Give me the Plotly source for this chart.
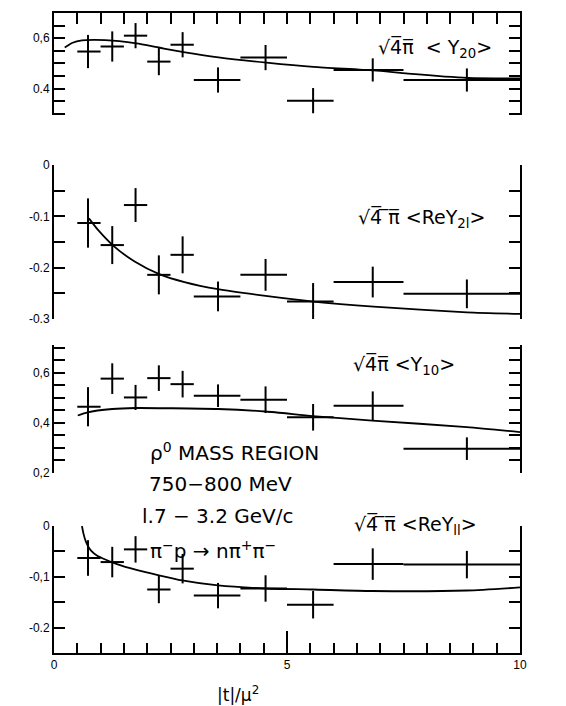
import numpy as np
import plotly.graph_objects as go

W, H = 566, 706

# ---------------- data ----------------
bin_edges = [0.5, 1.0, 1.5, 2.0, 2.5, 3.0, 4.0, 5.0, 6.0, 7.5, 10.0]
t_centers = [0.73, 1.25, 1.75, 2.25, 2.76, 3.52, 4.54, 5.56, 6.84, 8.86]

y20 = [0.547, 0.567, 0.610, 0.507, 0.574, 0.434, 0.523, 0.352, 0.474, 0.434]
y20_err = [0.066, 0.060, 0.050, 0.054, 0.050, 0.050, 0.050, 0.050, 0.046, 0.046]
y20_fit_t = [0.23, 0.4, 0.6, 0.85, 1.1, 1.4, 1.77, 2.27, 2.78, 3.53, 4.56, 5.57, 6.86, 7.6, 8.88, 10.0]
y20_fit = [0.563, 0.582, 0.591, 0.593, 0.592, 0.588, 0.579, 0.562, 0.545, 0.524, 0.503, 0.486, 0.472, 0.459, 0.442, 0.440]

rey21 = [-0.113, -0.156, -0.078, -0.214, -0.175, -0.256, -0.214, -0.266, -0.228, -0.251]
rey21_err = [0.048, 0.037, 0.033, 0.038, 0.036, 0.029, 0.031, 0.036, 0.030, 0.028]
rey21_fit_t = [0.75, 0.94, 1.27, 1.73, 2.27, 2.80, 3.52, 4.54, 5.56, 6.86, 8.86, 10.0]
rey21_fit = [-0.104, -0.126, -0.157, -0.188, -0.213, -0.228, -0.242, -0.255, -0.266, -0.276, -0.287, -0.290]

y10 = [0.464, 0.576, 0.501, 0.578, 0.554, 0.508, 0.492, 0.422, 0.468, 0.297]
y10_err = [0.078, 0.061, 0.050, 0.051, 0.053, 0.045, 0.053, 0.053, 0.057, 0.045]
y10_fit_t = [0.51, 0.72, 1.25, 1.75, 2.5, 3.52, 4.54, 5.55, 6.83, 8.86, 10.0]
y10_fit = [0.429, 0.442, 0.455, 0.459, 0.458, 0.455, 0.445, 0.427, 0.409, 0.383, 0.363]

rey11 = [-0.063, -0.071, -0.046, -0.125, -0.084, -0.137, -0.123, -0.155, -0.075, -0.076]
rey11_err = [0.035, 0.030, 0.026, 0.027, 0.029, 0.025, 0.026, 0.027, 0.031, 0.027]
rey11_fit_t = [0.60, 0.63, 0.67, 0.72, 0.80, 0.92, 1.1, 1.35, 1.75, 2.25, 2.75, 3.52, 4.54, 5.55, 6.83, 8.86, 10.0]
rey11_fit = [0.0, -0.014, -0.027, -0.038, -0.049, -0.058, -0.066, -0.075, -0.086, -0.097, -0.107, -0.117, -0.123, -0.125, -0.128, -0.127, -0.121]

OV = "\u0305"
panel_labels = ["√4" + OV + "π" + OV + "  &lt; Y<sub>20</sub>&gt;",
                "√4" + OV + " " + OV + "π" + OV + " &lt;ReY<sub>2l</sub>&gt;",
                "√4" + OV + "π" + OV + " &lt;Y<sub>10</sub>&gt;",
                "√4" + OV + " " + OV + "π" + OV + " &lt;ReY<sub>ll</sub>&gt;"]

y_ranges = [[0.295, 0.70], [-0.30, 0.0], [0.2, 0.71], [-0.25, 0.0]]
y_tickvals = [[0.4, 0.6], [0.0, -0.1, -0.2, -0.3], [0.2, 0.4, 0.6], [0.0, -0.1, -0.2]]
y_ticktext = [["0.4", "0,6"], ["0", "-0.1", "-0.2", "-0.3"], ["0,2", "0,4", "0,6"], ["0", "-0,1", "-0.2"]]

x_tickvals = [0, 5, 10]
x_ticktext = ["0", "5", "10"]

info_lines = ["ρ<sup>0</sup> MASS REGION", "750−800 MeV", "l.7 − 3.2 GeV/c",
              "π<sup>−</sup>p → nπ<sup>+</sup>π<sup>−</sup>"]

# ---------------- layout geometry (pixels) ----------------
px_left, px_right = 46, 512
panel_px = [(5, 107), (157, 311), (337, 465), (518, 645)]

def fx(px):
    return px / W

def fy(py):
    return 1 - py / H

fig = go.Figure()
xlo = [c - e for c, e in zip(t_centers, bin_edges[:-1])]
xhi = [e - c for c, e in zip(t_centers, bin_edges[1:])]

values = [y20, rey21, y10, rey11]
errors = [y20_err, rey21_err, y10_err, rey11_err]
fits_t = [y20_fit_t, rey21_fit_t, y10_fit_t, rey11_fit_t]
fits = [y20_fit, rey21_fit, y10_fit, rey11_fit]

font_fam = "Liberation Sans, Arial, sans-serif"

for i in range(4):
    n = i + 1
    xa = "x" if n == 1 else f"x{n}"
    ya = "y" if n == 1 else f"y{n}"
    fig.add_trace(go.Scatter(
        x=t_centers, y=values[i], mode="markers", xaxis=xa, yaxis=ya,
        marker=dict(size=1, color="black"),
        error_x=dict(type="data", symmetric=False, array=xhi, arrayminus=xlo,
                     color="black", thickness=2, width=0),
        error_y=dict(type="data", array=errors[i], color="black", thickness=2, width=0),
        showlegend=False, cliponaxis=False))
    fig.add_trace(go.Scatter(
        x=fits_t[i], y=fits[i], mode="lines", xaxis=xa, yaxis=ya,
        line=dict(color="black", width=1.8, shape="spline", smoothing=0.6),
        showlegend=False))

    top, bot = panel_px[i]
    ydom = [fy(bot), fy(top)]
    xdom = [fx(px_left), fx(px_right)]
    yr = y_ranges[i]
    minor_vals = list(np.round(np.arange(-0.35, 0.75, 0.05), 3))
    yax = dict(domain=ydom, range=yr, anchor=xa, showline=True, linewidth=2, linecolor="black",
               mirror="ticks", ticks="inside", ticklen=11, tickwidth=2, tickcolor="black",
               tickmode="array", tickvals=y_tickvals[i], ticktext=y_ticktext[i],
               minor=dict(tickmode="array", tickvals=minor_vals, ticks="inside", ticklen=11,
                          tickwidth=2, tickcolor="black"),
               showgrid=False, zeroline=False, automargin=False,
               tickfont=dict(family=font_fam, size=12, color="black"))
    xax = dict(domain=xdom, range=[0, 10], anchor=ya, showgrid=False, zeroline=False,
               automargin=False, showticklabels=False)
    if n == 1:
        xax.update(side="top", showline=True, linewidth=2, linecolor="black", ticks="inside",
                   ticklen=11, tickwidth=2, tickcolor="black", tickmode="linear", tick0=0, dtick=0.5)
    elif n == 4:
        xax.update(showline=True, linewidth=2, linecolor="black", ticks="inside",
                   ticklen=22, tickwidth=2, tickcolor="black", tickmode="array",
                   tickvals=x_tickvals, ticktext=x_ticktext, showticklabels=True,
                   tickfont=dict(family=font_fam, size=12, color="black"),
                   minor=dict(tickmode="linear", tick0=0, dtick=0.5, ticks="inside", ticklen=10,
                              tickwidth=2, tickcolor="black"))
    else:
        xax.update(showline=False, ticks="")
    fig.layout[f"xaxis{n}" if n > 1 else "xaxis"] = xax
    fig.layout[f"yaxis{n}" if n > 1 else "yaxis"] = yax

# panel labels
label_pos = [(368, 40), (348, 210), (343, 357), (344, 517)]
annotations = []
for (lx, ly), txt in zip(label_pos, panel_labels):
    annotations.append(dict(x=fx(lx), y=fy(ly), xref="paper", yref="paper", text=txt,
                            showarrow=False, xanchor="left", yanchor="middle",
                            font=dict(family="DejaVu Sans, sans-serif", size=19, color="black")))

info_pos = [(140, 444), (139, 476), (132, 508), (140, 542)]
for (lx, ly), txt in zip(info_pos, info_lines):
    annotations.append(dict(x=fx(lx), y=fy(ly), xref="paper", yref="paper", text=txt,
                            showarrow=False, xanchor="left", yanchor="middle",
                            font=dict(family="DejaVu Sans, sans-serif", size=20, color="black")))

annotations.append(dict(x=fx(230), y=fy(686), xref="paper", yref="paper",
                        text="|t|/μ<sup>2</sup>", showarrow=False, xanchor="center",
                        yanchor="middle",
                        font=dict(family="DejaVu Sans, sans-serif", size=17, color="black")))

fig.update_layout(width=W, height=H, margin=dict(l=0, r=0, t=0, b=0),
                  paper_bgcolor="white", plot_bgcolor="white",
                  annotations=annotations, showlegend=False)

fig.write_html("out.html")
